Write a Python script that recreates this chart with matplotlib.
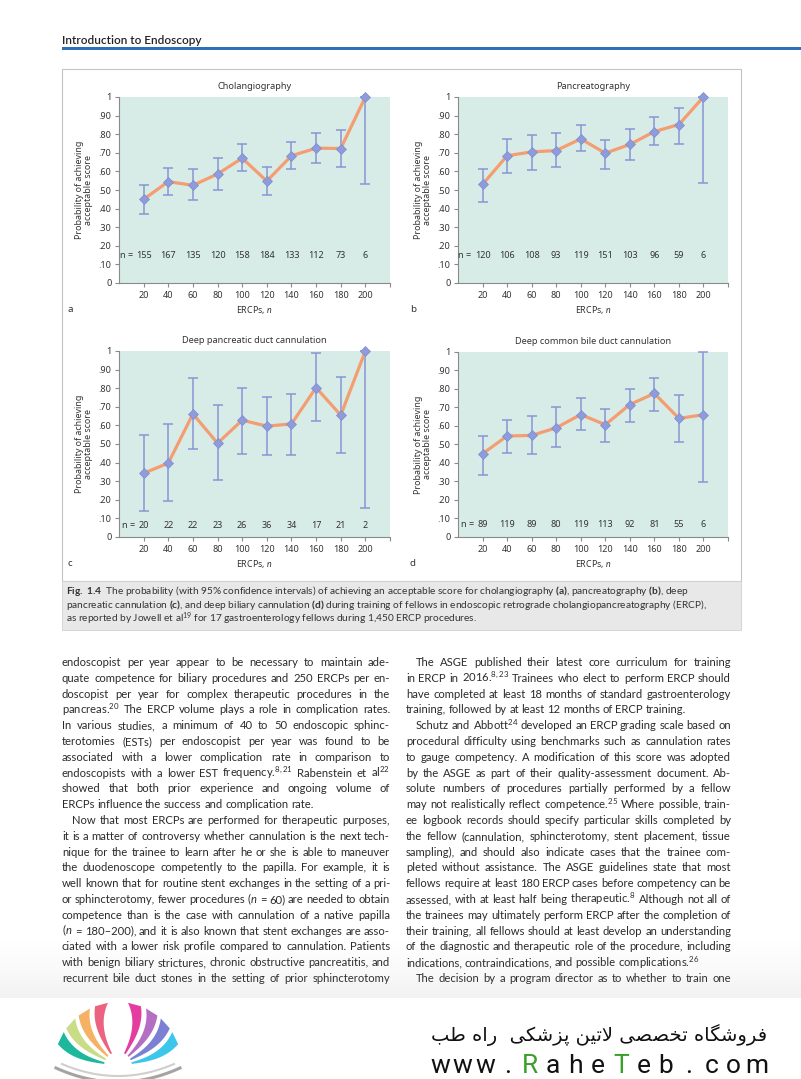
import numpy as np
import matplotlib
matplotlib.use('Agg')
import matplotlib.pyplot as plt
from matplotlib.patches import Rectangle, Polygon

# ---- chart data -------------------------------------------------------
ercps = [20, 40, 60, 80, 100, 120, 140, 160, 180, 200]
ytick_vals = [0, .1, .2, .3, .4, .5, .6, .7, .8, .9, 1.0]
ytick_labels = ['0', '.10', '.20', '.30', '.40', '.50', '.60', '.70', '.80', '.90', '1']

titles = ['Cholangiography', 'Pancreatography',
          'Deep pancreatic duct cannulation', 'Deep common bile duct cannulation']
letters = ['a', 'b', 'c', 'd']

prob_a = [0.45, 0.545, 0.525, 0.586, 0.671, 0.548, 0.684, 0.725, 0.723, 1.0]
low_a = [0.37, 0.471, 0.445, 0.50, 0.602, 0.473, 0.611, 0.645, 0.621, 0.53]
high_a = [0.525, 0.616, 0.614, 0.67, 0.746, 0.621, 0.759, 0.807, 0.825, 1.0]
n_a = [155, 167, 135, 120, 158, 184, 133, 112, 73, 6]

prob_b = [0.53, 0.684, 0.705, 0.712, 0.775, 0.698, 0.745, 0.814, 0.852, 1.0]
low_b = [0.4375, 0.593, 0.61, 0.625, 0.709, 0.613, 0.659, 0.743, 0.750, 0.536]
high_b = [0.6125, 0.775, 0.795, 0.809, 0.852, 0.770, 0.830, 0.893, 0.941, 1.0]
n_b = [120, 106, 108, 93, 119, 151, 103, 96, 59, 6]

prob_c = [0.343, 0.397, 0.662, 0.504, 0.628, 0.596, 0.608, 0.803, 0.655, 1.0]
low_c = [0.14, 0.191, 0.472, 0.306, 0.447, 0.44, 0.44, 0.624, 0.454, 0.156]
high_c = [0.546, 0.606, 0.853, 0.708, 0.803, 0.751, 0.767, 0.989, 0.859, 1.0]
n_c = [20, 22, 22, 23, 26, 36, 34, 17, 21, 2]

prob_d = [0.45, 0.546, 0.549, 0.59, 0.662, 0.607, 0.716, 0.776, 0.641, 0.661]
low_d = [0.334, 0.454, 0.449, 0.487, 0.58, 0.512, 0.619, 0.679, 0.515, 0.296]
high_d = [0.546, 0.63, 0.655, 0.70, 0.752, 0.693, 0.80, 0.86, 0.77, 1.0]
n_d = [89, 119, 89, 80, 119, 113, 92, 81, 55, 6]

n_label_y = [0.146, 0.146, 0.061, 0.07]

# ---- page text ------------------------------------------------------
header = 'Introduction to Endoscopy'
caption = [
    r'$\mathbf{Fig.\ 1.4}$  The probability (with 95% confidence intervals) of achieving an acceptable score for cholangiography $\mathbf{(a)}$, pancreatography $\mathbf{(b)}$, deep',
    r'pancreatic cannulation $\mathbf{(c)}$, and deep biliary cannulation $\mathbf{(d)}$ during training of fellows in endoscopic retrograde cholangiopancreatography (ERCP),',
    r'as reported by Jowell et al$^{19}$ for 17 gastroenterology fellows during 1,450 ERCP procedures.',
]
# (text, justified, indented)
left_col = [
    ('endoscopist per year appear to be necessary to maintain ade-', True, False),
    ('quate competence for biliary procedures and 250 ERCPs per en-', True, False),
    ('doscopist per year for complex therapeutic procedures in the', True, False),
    ('pancreas.$^{20}$ The ERCP volume plays a role in complication rates.', True, False),
    ('In various studies, a minimum of 40 to 50 endoscopic sphinc-', True, False),
    ('terotomies (ESTs) per endoscopist per year was found to be', True, False),
    ('associated with a lower complication rate in comparison to', True, False),
    ('endoscopists with a lower EST frequency.$^{8,21}$ Rabenstein et al$^{22}$', True, False),
    ('showed that both prior experience and ongoing volume of', True, False),
    ('ERCPs influence the success and complication rate.', False, False),
    ('Now that most ERCPs are performed for therapeutic purposes,', True, True),
    ('it is a matter of controversy whether cannulation is the next tech-', True, False),
    ('nique for the trainee to learn after he or she is able to maneuver', True, False),
    ('the duodenoscope competently to the papilla. For example, it is', True, False),
    ('well known that for routine stent exchanges in the setting of a pri-', True, False),
    ('or sphincterotomy, fewer procedures ($n$ = 60) are needed to obtain', True, False),
    ('competence than is the case with cannulation of a native papilla', True, False),
    ('($n$ = 180\u2013200), and it is also known that stent exchanges are asso-', True, False),
    ('ciated with a lower risk profile compared to cannulation. Patients', True, False),
    ('with benign biliary strictures, chronic obstructive pancreatitis, and', True, False),
    ('recurrent bile duct stones in the setting of prior sphincterotomy', True, False),
]
right_col = [
    ('The ASGE published their latest core curriculum for training', True, True),
    ('in ERCP in 2016.$^{8,23}$ Trainees who elect to perform ERCP should', True, False),
    ('have completed at least 18 months of standard gastroenterology', True, False),
    ('training, followed by at least 12 months of ERCP training.', False, False),
    ('Schutz and Abbott$^{24}$ developed an ERCP grading scale based on', True, True),
    ('procedural difficulty using benchmarks such as cannulation rates', True, False),
    ('to gauge competency. A modification of this score was adopted', True, False),
    ('by the ASGE as part of their quality-assessment document. Ab-', True, False),
    ('solute numbers of procedures partially performed by a fellow', True, False),
    ('may not realistically reflect competence.$^{25}$ Where possible, train-', True, False),
    ('ee logbook records should specify particular skills completed by', True, False),
    ('the fellow (cannulation, sphincterotomy, stent placement, tissue', True, False),
    ('sampling), and should also indicate cases that the trainee com-', True, False),
    ('pleted without assistance. The ASGE guidelines state that most', True, False),
    ('fellows require at least 180 ERCP cases before competency can be', True, False),
    ('assessed, with at least half being therapeutic.$^{8}$ Although not all of', True, False),
    ('the trainees may ultimately perform ERCP after the completion of', True, False),
    ('their training, all fellows should at least develop an understanding', True, False),
    ('of the diagnostic and therapeutic role of the procedure, including', True, False),
    ('indications, contraindications, and possible complications.$^{26}$', False, False),
    ('The decision by a program director as to whether to train one', True, True),
]
# shop banner (Persian, pre-shaped presentation forms, reversed to visual order)
shop_fa = ''.join(reversed(
    '\uFED3\uFEAE\uFEED\uFEB7\uFB95\uFE8E\uFEE9 '
    '\uFE97\uFEA8\uFEBC\uFEBC\uFEF0 '
    '\uFEFB\uFE97\uFEF4\uFEE6 '
    '\uFB58\uFEB0\uFEB7\uFEDC\uFEF0  '
    '\uFEAD\uFE8D\uFEE9 '
    '\uFEC3\uFE90'))
url = 'www.RaheTeb.com'

# ---- style -----------------------------------------------------------
plt.rcParams['mathtext.fontset'] = 'custom'
plt.rcParams['mathtext.rm'] = 'Lato'
plt.rcParams['mathtext.it'] = 'Lato:italic'
plt.rcParams['mathtext.bf'] = 'Lato:bold'
plt.rcParams['font.family'] = ['Lato', 'DejaVu Sans']
CH = ['Noto Sans', 'DejaVu Sans']   # chart font

teal = '#d7ece7'
orange = '#f59d72'
blue = '#8796d4'
diamond = '#8e9cdb'
axcol = '#8a8a8a'
txt = '#333333'
body = '#2b2b2b'

W, H = 801, 1079
fig = plt.figure(figsize=(8.01, 10.79), dpi=100)
pax = fig.add_axes([0, 0, 1, 1])
pax.set_xlim(0, W)
pax.set_ylim(H, 0)
pax.axis('off')
rend = fig.canvas.get_renderer()

# header
pax.text(62, 44, header, fontsize=8.5, fontweight='semibold', color='#222222', va='baseline')
pax.add_patch(Rectangle((62, 46.5), W - 62, 3, color='#2f6fb6', lw=0))

# figure panel and caption box
pax.add_patch(Rectangle((62, 69), 679, 512, facecolor='white', edgecolor='#c4c4c4', lw=0.8))
pax.add_patch(Rectangle((62, 581), 679, 49, facecolor='#e8e8e8', edgecolor='#d0d0d0', lw=0.6))
for i, line in enumerate(caption):
    pax.text(66, 594.5 + 13.7 * i, line, fontsize=7.3, color=txt, va='baseline')


def panel_axes(l, t, r, b):
    return fig.add_axes([l / W, 1 - b / H, (r - l) / W, (b - t) / H])


boxes = [(119, 97, 390, 283), (458, 97, 728, 283), (119, 351, 390, 537), (458, 352, 728, 537)]
letter_pos = [(68, 309), (410, 309), (68, 564), (409, 563)]
probs = [prob_a, prob_b, prob_c, prob_d]
lows = [low_a, low_b, low_c, low_d]
highs = [high_a, high_b, high_c, high_d]
ns = [n_a, n_b, n_c, n_d]

for k in range(4):
    ax = panel_axes(*boxes[k])
    ax.set_facecolor(teal)
    p = np.array(probs[k])
    lo = np.array(lows[k])
    hi = np.array(highs[k])
    ax.errorbar(ercps, p, yerr=[p - lo, hi - p], fmt='none', ecolor=blue,
                elinewidth=1.1, capsize=3.6, capthick=1.1, zorder=2, clip_on=False)
    ax.plot(ercps, p, color=orange, lw=2.3, zorder=3, clip_on=False, solid_joinstyle='miter')
    ax.plot(ercps, p, ls='none', marker='D', ms=5.2, mfc=diamond, mec='#7d8cd0',
            mew=0.5, zorder=4, clip_on=False)
    for x, n in zip(ercps, ns[k]):
        ax.text(x, n_label_y[k], str(n), ha='center', va='center', fontsize=6.5,
                color=txt, family=CH)
    s0 = str(ns[k][0])
    ax.annotate('n =', xy=(ercps[0], n_label_y[k]), xytext=(-(len(s0) * 1.9 + 2.2), 0),
                textcoords='offset points', ha='right', va='center', fontsize=6.5,
                color=txt, family=CH)
    ax.set_xlim(0, 220)
    ax.set_ylim(0, 1)
    ax.set_xticks(ercps)
    ax.set_xticks([220], minor=True)
    ax.set_yticks(ytick_vals)
    ax.set_yticklabels(ytick_labels)
    for s in ['top', 'right']:
        ax.spines[s].set_visible(False)
    for s in ['left', 'bottom']:
        ax.spines[s].set_color(axcol)
        ax.spines[s].set_linewidth(0.8)
    ax.tick_params(which='both', direction='out', length=3, width=0.8, color=axcol,
                   labelsize=6.5, labelcolor=txt, pad=2.5)
    for lab in ax.get_xticklabels() + ax.get_yticklabels():
        lab.set_family(CH)
    ax.set_title(titles[k], fontsize=6.6, color=txt, pad=5.5, family=CH)
    ax.set_ylabel('Probability of achieving\nacceptable score', fontsize=6.4,
                  color=txt, labelpad=4, linespacing=1.05, family=CH)
    ax.set_xlabel('ERCPs, $n$', fontsize=6.4, color=txt, labelpad=3, family=CH)
    pax.text(letter_pos[k][0], letter_pos[k][1], letters[k], fontsize=7, color=txt,
             ha='left', va='center', family=CH)

# body text, justified word by word
BODY_FS = 8.1
space_w = 2.6


def put_line(s, x0, x1, yb, just, indent):
    words = s.split(' ')
    arts = [pax.text(0, yb, w, fontsize=BODY_FS, color=body, va='baseline', ha='left')
            for w in words]
    ws = [a.get_window_extent(rend).width for a in arts]
    xa = x0 + (10 if indent else 0)
    if just and len(words) > 1:
        gap = (x1 - xa - sum(ws)) / (len(words) - 1)
    else:
        gap = space_w
    x = xa
    for a, w in zip(arts, ws):
        a.set_x(x)
        x += w + gap


for i, (s, j, ind) in enumerate(left_col):
    put_line(s, 62, 390, 666 + 15.8 * i, j, ind)
for i, (s, j, ind) in enumerate(right_col):
    put_line(s, 406, 731, 666 + 15.8 * i, j, ind)

# page shading near the bottom
grad = np.zeros((64, 1, 4))
grad[..., :3] = 0.55
grad[:, 0, 3] = np.linspace(0, 0.26, 64) ** 1.6
pax.imshow(grad, extent=(0, W, 998, 930), aspect='auto', zorder=5)
pax.add_patch(Rectangle((0, 998), W, H - 998, color='white', lw=0, zorder=6))
pax.set_xlim(0, W)
pax.set_ylim(H, 0)

# logo
cx, cy = 118, 1066
left_cols = ['#1db89b', '#c9dd86', '#f5b264', '#ec6382']
right_cols = ['#3cc6ea', '#7b80d2', '#b46fc4', '#e53c9f']
left_ang = [168, 152, 136, 119]
right_ang = [12, 28, 44, 61]
for cols, angs, sgn in [(left_cols, left_ang, 1), (right_cols, right_ang, -1)]:
    for c, a in zip(cols, angs):
        t = np.linspace(0, 1, 16)
        r = 14 + 50 * t
        aa = np.radians(a - sgn * 14 * t ** 2)
        half = np.radians(3.5 + 2.5 * t)
        xs1 = cx + r * np.cos(aa - half)
        ys1 = cy - r * np.sin(aa - half)
        xs2 = cx + r * np.cos(aa + half)
        ys2 = cy - r * np.sin(aa + half)
        pts = np.column_stack([np.r_[xs1, xs2[::-1]], np.r_[ys1, ys2[::-1]]])
        pax.add_patch(Polygon(pts, closed=True, color=c, lw=0, zorder=7))
tt = np.linspace(-1, 1, 60)
pax.plot(cx + 62 * tt, cy + 2 + 8 * (1 - tt ** 2) - 6 * tt ** 2 + 6, color='#a4a4a4', lw=2.2, zorder=7)
pax.plot(cx + 56 * tt, cy + 2 + 6 * (1 - tt ** 2) - 6 * tt ** 2 + 2, color='#cfcfcf', lw=1.5, zorder=7)

pax.text(599, 1041, shop_fa, fontsize=14, family='DejaVu Sans', color='#111111',
         ha='center', va='baseline', zorder=8)
for i, ch in enumerate(url):
    col = '#3aa02a' if ch in 'RT' else '#111111'
    pax.text(440 + 22.6 * i, 1073, ch, fontsize=19, family='Roboto', color=col,
             ha='center', va='baseline', zorder=8)

fig.savefig('out.png', dpi=100)
